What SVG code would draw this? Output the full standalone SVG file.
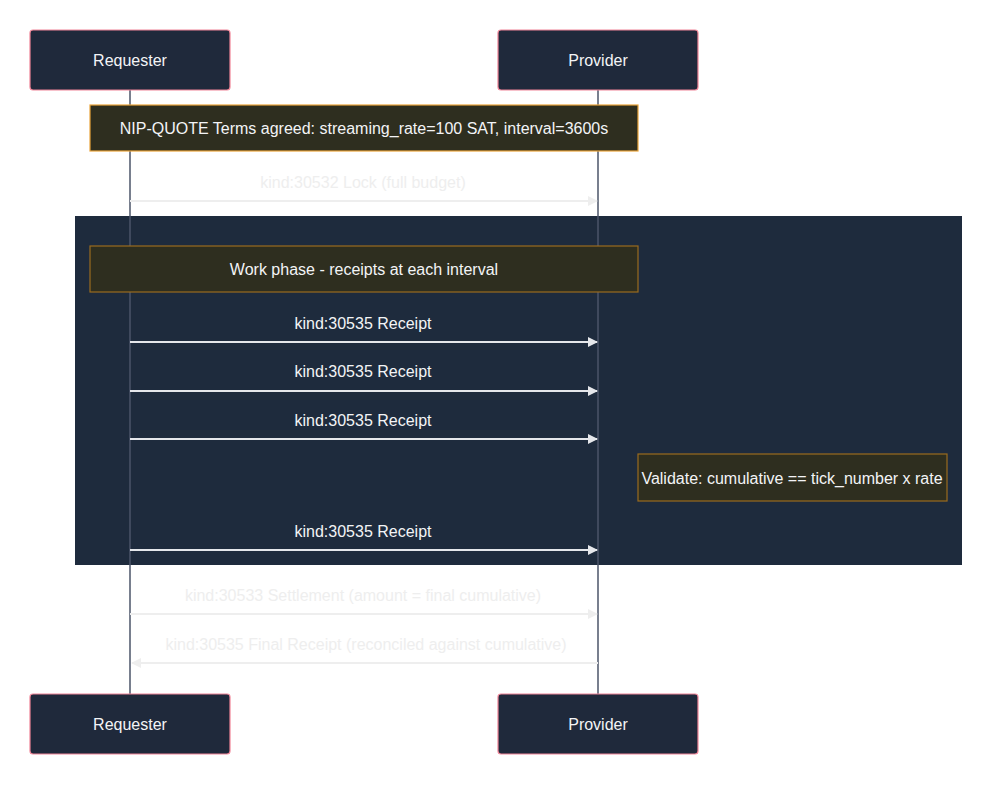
<svg xmlns="http://www.w3.org/2000/svg" width="992" height="785" viewBox="0 0 992 785">
<defs>
<style>
.actor{fill:#1f293b;stroke:#f08497;stroke-width:1.2}
.atext{font-family:"Liberation Sans",Arial,sans-serif;font-size:16px;fill:#f3f4f6;text-anchor:middle;dominant-baseline:central}
.life{stroke:#4b5568;stroke-width:1.5}
.note{fill:#2e2e1f;stroke-width:1.2}
.ntext{font-family:"Liberation Sans",Arial,sans-serif;font-size:16px;fill:#f3f4f6;text-anchor:middle;dominant-baseline:central}
.mtext{font-family:"Liberation Sans",Arial,sans-serif;font-size:16px;text-anchor:middle;dominant-baseline:central;stroke:none}
.tfaint{fill:#eeeeee}
.tbright{fill:#f3f4f6}
.lfaint{stroke:#eeeeee;stroke-width:2;fill:none}
.lbright{stroke:#e5e7eb;stroke-width:2;fill:none}
</style>
<marker id="ahf" viewBox="0 0 10 10" refX="9" refY="5" markerWidth="10" markerHeight="10" markerUnits="userSpaceOnUse" orient="auto"><path d="M0,0 L10,5 L0,10 z" fill="#eeeeee"/></marker>
<marker id="ahb" viewBox="0 0 10 10" refX="9" refY="5" markerWidth="10" markerHeight="10" markerUnits="userSpaceOnUse" orient="auto"><path d="M0,0 L10,5 L0,10 z" fill="#e5e7eb"/></marker>
</defs>
<rect width="992" height="785" fill="#ffffff"/>
<rect id="loop" x="75" y="216" width="887" height="349" fill="#1e2b3d"/>
<g id="lifelines">
<line class="life" x1="130" y1="90" x2="130" y2="694"/>
<line class="life" x1="598" y1="90" x2="598" y2="694"/>
</g>
<g id="requester-top"><rect class="actor" x="30" y="30" width="200" height="60" rx="3"/><text class="atext" x="130" y="60">Requester</text></g>
<g id="provider-top"><rect class="actor" x="498" y="30" width="200" height="60" rx="3"/><text class="atext" x="598" y="60">Provider</text></g>
<g id="requester-bottom"><rect class="actor" x="30" y="694" width="200" height="60" rx="3"/><text class="atext" x="130" y="724">Requester</text></g>
<g id="provider-bottom"><rect class="actor" x="498" y="694" width="200" height="60" rx="3"/><text class="atext" x="598" y="724">Provider</text></g>
<g id="note-terms"><rect class="note" x="90" y="105" width="548" height="46" stroke="#e9a43a"/><text class="ntext" x="364" y="128">NIP-QUOTE Terms agreed: streaming_rate=100 SAT, interval=3600s</text></g>
<g id="note-work"><rect class="note" x="90" y="246" width="548" height="46" stroke="#9a6b1e"/><text class="ntext" x="364" y="269">Work phase - receipts at each interval</text></g>
<g id="note-validate"><rect class="note" x="638" y="454" width="309" height="47" stroke="#9a6b1e"/><text class="ntext" x="792" y="478">Validate: cumulative == tick_number x rate</text></g>
<g id="connectors">
<line class="lfaint" x1="130" y1="201" x2="597" y2="201" marker-end="url(#ahf)"/>
<text class="mtext tfaint" x="363" y="182">kind:30532 Lock (full budget)</text>
<line class="lbright" x1="130" y1="342" x2="597" y2="342" marker-end="url(#ahb)"/>
<text class="mtext tbright" x="363" y="323">kind:30535 Receipt</text>
<line class="lbright" x1="130" y1="391" x2="597" y2="391" marker-end="url(#ahb)"/>
<text class="mtext tbright" x="363" y="371">kind:30535 Receipt</text>
<line class="lbright" x1="130" y1="439" x2="597" y2="439" marker-end="url(#ahb)"/>
<text class="mtext tbright" x="363" y="420">kind:30535 Receipt</text>
<line class="lbright" x1="130" y1="550" x2="597" y2="550" marker-end="url(#ahb)"/>
<text class="mtext tbright" x="363" y="531">kind:30535 Receipt</text>
<line class="lfaint" x1="130" y1="614" x2="597" y2="614" marker-end="url(#ahf)"/>
<text class="mtext tfaint" x="363" y="595">kind:30533 Settlement (amount = final cumulative)</text>
<line class="lfaint" x1="598" y1="663" x2="132" y2="663" marker-end="url(#ahf)"/>
<text class="mtext tfaint" x="366" y="644">kind:30535 Final Receipt (reconciled against cumulative)</text>
</g>
</svg>
